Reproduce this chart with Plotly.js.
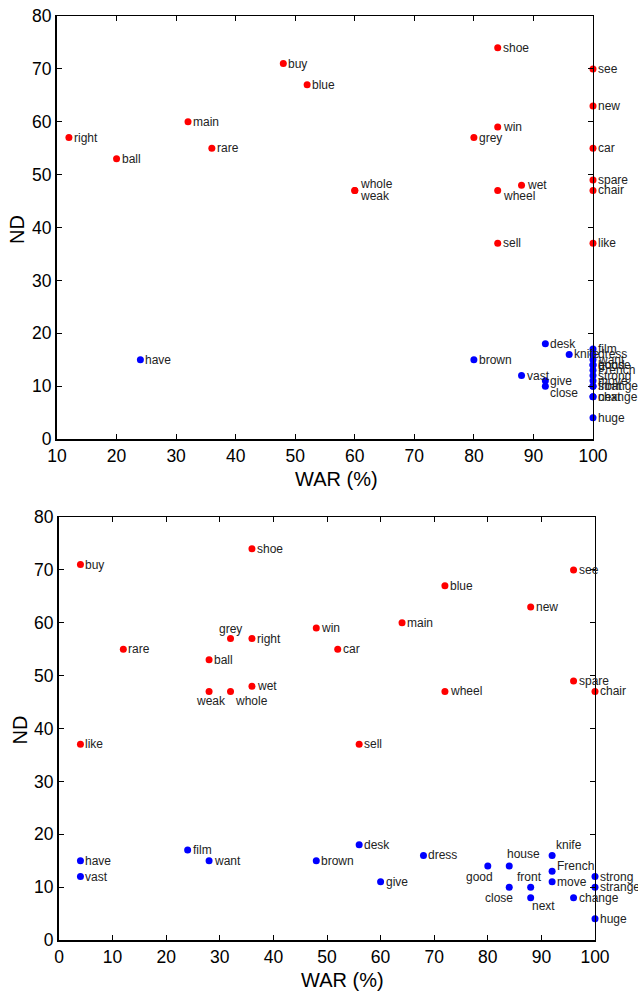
<!DOCTYPE html>
<html>
<head>
<meta charset="utf-8">
<script src="https://cdn.plot.ly/plotly-3.0.1.min.js"></script>
<style>html,body{margin:0;padding:0;background:#fff;}#chart{width:638px;height:992px;}</style>
</head>
<body>
<div id="chart"></div>
<script>
// ---------- Data: top panel ----------
const topRedLabels = ['right','ball','main','rare','buy','blue','whole','weak','shoe','win','grey','wet','wheel','sell','see','new','car','spare','chair','like'];
const topRedWAR    = [12,20,32,36,48,52,60,60,84,84,80,88,84,84,100,100,100,100,100,100];
const topRedND     = [57,53,60,55,71,67,47,47,74,59,57,48,47,37,70,63,55,49,47,37];

const topBlueLabels = ['have','brown','vast','desk','give','close','knife','film','dress','want','house','good','French','strong','move','strange','front','next','change','huge'];
const topBlueWAR    = [24,80,88,92,92,92,96,100,100,100,100,100,100,100,100,100,100,100,100,100];
const topBlueND     = [15,15,12,18,11,10,16,17,16,15,14,14,13,12,11,10,10,8,8,4];

// ---------- Data: bottom panel ----------
const botRedLabels = ['buy','like','rare','ball','weak','grey','whole','shoe','right','wet','win','car','main','sell','blue','wheel','new','see','spare','chair'];
const botRedWAR    = [4,4,12,28,28,32,32,36,36,36,48,52,64,56,72,72,88,96,96,100];
const botRedND     = [71,37,55,53,47,57,47,74,57,48,59,55,60,37,67,47,63,70,49,47];

const botBlueLabels = ['have','vast','film','want','brown','desk','give','dress','good','house','close','front','next','knife','French','move','change','strong','strange','huge'];
const botBlueWAR    = [4,4,24,28,48,56,60,68,80,84,84,88,88,92,92,92,96,100,100,100];
const botBlueND     = [15,12,17,15,15,18,11,16,14,14,10,10,8,16,13,11,8,12,10,4];

// ---------- Label placement (style only) ----------
const DEF = ['left', 5, 0];
const topPlace = {
  whole: ['left', 5, 6], weak: ['left', 5, -6], wheel: ['left', 5, -6], close: ['left', 5, -7]
};
const botPlace = {
  grey: ['center', 0, 10], weak: ['center', 2, -10], whole: ['left', 4, -10],
  good: ['center', -8, -11], house: ['left', -2, 12], close: ['center', -10, -11],
  front: ['center', -1, 10], next: ['left', 1, -8], knife: ['left', 4, 10], French: ['left', 5, 5]
};

const RED = '#ff0000', BLUE = '#0000ff';
const FONT = 'Liberation Sans, Arial, Helvetica, sans-serif';

function pts(x, y, color, xa, ya) {
  return {type: 'scatter', mode: 'markers', x: x, y: y, xaxis: xa, yaxis: ya,
    marker: {color: color, size: 7, line: {width: 0}}, cliponaxis: false, hoverinfo: 'skip', showlegend: false};
}
function labels(lbls, x, y, xr, yr, place) {
  return lbls.map((t, i) => {
    const p = place[t] || DEF;
    return {text: t, x: x[i], y: y[i], xref: xr, yref: yr, showarrow: false,
      xanchor: p[0], yanchor: 'middle', xshift: p[1], yshift: p[2],
      borderpad: 0, borderwidth: 0, font: {family: FONT, size: 12, color: '#222'}};
  });
}

const traces = [
  pts(topRedWAR, topRedND, RED, 'x', 'y'),
  pts(topBlueWAR, topBlueND, BLUE, 'x', 'y'),
  pts(botRedWAR, botRedND, RED, 'x2', 'y2'),
  pts(botBlueWAR, botBlueND, BLUE, 'x2', 'y2'),
  {type: 'scatter', x: [], y: [], xaxis: 'x3', yaxis: 'y3', showlegend: false},
  {type: 'scatter', x: [], y: [], xaxis: 'x4', yaxis: 'y4', showlegend: false}
];

const tickFont = {family: FONT, size: 17.5, color: '#000'};
function mainX(dom, anchor, range) {
  return {domain: dom, anchor: anchor, range: range, dtick: 10, tick0: 0, ticks: 'inside', ticklen: 5,
    tickwidth: 1, tickcolor: '#000', showline: true, linewidth: 2, linecolor: '#000',
    showgrid: false, zeroline: false, tickfont: tickFont, fixedrange: true};
}
function mainY(dom, anchor) {
  return {domain: dom, anchor: anchor, range: [0, 80], dtick: 10, tick0: 0, ticks: 'inside', ticklen: 5,
    tickwidth: 1, tickcolor: '#000', showline: true, linewidth: 2, linecolor: '#000',
    showgrid: false, zeroline: false, tickfont: tickFont, fixedrange: true};
}
function mirrorAx(over, anchor, side, range) {
  return {overlaying: over, anchor: anchor, side: side, range: range, dtick: 10, tick0: 0,
    ticks: 'inside', ticklen: 5, tickwidth: 1, tickcolor: '#000', showline: true, linewidth: 1,
    linecolor: '#000', showgrid: false, zeroline: false, showticklabels: false, fixedrange: true};
}

const titleFont = {family: FONT, size: 20, color: '#000'};
const titles = [
  {text: 'WAR (%)', xref: 'paper', yref: 'paper', x: 0.528, y: 1 - 479/992, showarrow: false, xanchor: 'center', yanchor: 'middle', font: titleFont},
  {text: 'WAR (%)', xref: 'paper', yref: 'paper', x: 0.5376, y: 1 - 980/992, showarrow: false, xanchor: 'center', yanchor: 'middle', font: titleFont},
  {text: 'ND', xref: 'paper', yref: 'paper', x: 17.5/638, y: 1 - 229.5/992, showarrow: false, textangle: -90, xanchor: 'center', yanchor: 'middle', font: titleFont},
  {text: 'ND', xref: 'paper', yref: 'paper', x: 19.5/638, y: 1 - 730/992, showarrow: false, textangle: -90, xanchor: 'center', yanchor: 'middle', font: titleFont}
];

const layout = {
  width: 638, height: 992, margin: {l: 0, r: 0, t: 0, b: 0},
  paper_bgcolor: '#fff', plot_bgcolor: 'rgba(0,0,0,0)', showlegend: false,
  xaxis: mainX([57/638, 593/638], 'y', [10, 100]),
  yaxis: mainY([1 - 439/992, 1 - 16/992], 'x'),
  xaxis2: mainX([59/638, 595/638], 'y2', [0, 100]),
  yaxis2: mainY([1 - 940/992, 1 - 517/992], 'x2'),
  xaxis3: mirrorAx('x', 'y', 'top', [10, 100]),
  yaxis3: mirrorAx('y', 'x', 'right', [0, 80]),
  xaxis4: mirrorAx('x2', 'y2', 'top', [0, 100]),
  yaxis4: mirrorAx('y2', 'x2', 'right', [0, 80]),
  annotations: [].concat(
    labels(topRedLabels, topRedWAR, topRedND, 'x', 'y', topPlace),
    labels(topBlueLabels, topBlueWAR, topBlueND, 'x', 'y', topPlace),
    labels(botRedLabels, botRedWAR, botRedND, 'x2', 'y2', botPlace),
    labels(botBlueLabels, botBlueWAR, botBlueND, 'x2', 'y2', botPlace),
    titles
  )
};

Plotly.newPlot('chart', traces, layout, {staticPlot: true, displayModeBar: false});
</script>
</body>
</html>
